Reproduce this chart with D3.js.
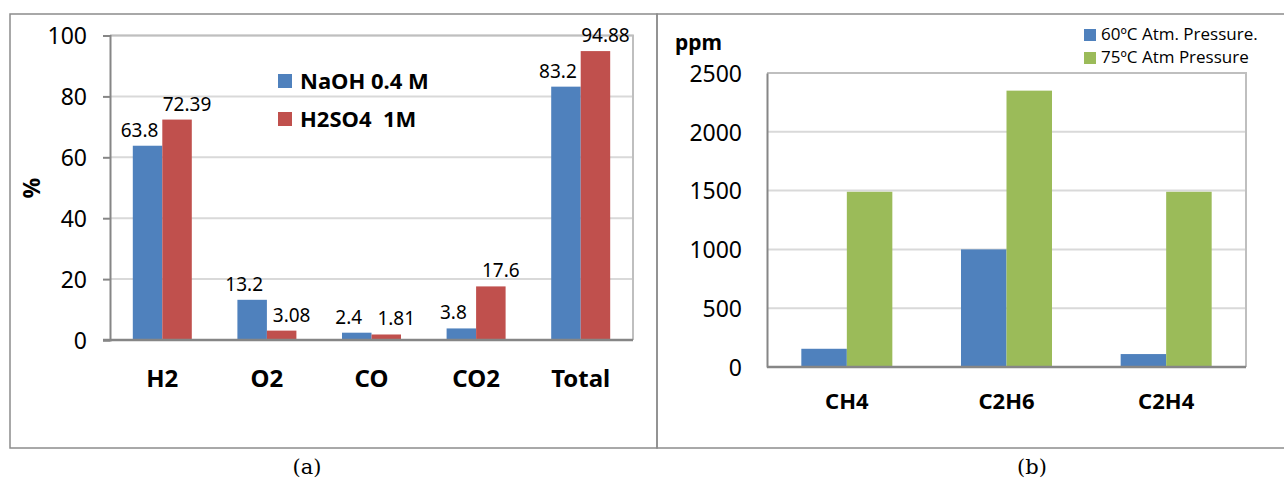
<!DOCTYPE html>
<html>
<head>
<meta charset="utf-8">
<title>Gas composition</title>
<script src="https://d3js.org/d3.v7.min.js"></script>
<style>
body { margin: 0; background: #fff; }
svg text { font-family: "Noto Sans", "Open Sans", sans-serif; fill: #000; }
</style>
</head>
<body>
<script type="text/javascript">

// panel (a)
var gasesA = ["H2", "O2", "CO", "CO2", "Total"];
var seriesA = ["NaOH 0.4 M", "H2SO4  1M"];
var naoh = [63.8, 13.2, 2.4, 3.8, 83.2];
var h2so4 = [72.39, 3.08, 1.81, 17.6, 94.88];
var ticksA = [0, 20, 40, 60, 80, 100];

// panel (b)
var gasesB = ["CH4", "C2H6", "C2H4"];
var seriesB = ["60ºC Atm. Pressure.", "75ºC Atm Pressure"];
var t60 = [155, 1000, 110];
var t75 = [1490, 2350, 1490];
var ticksB = [0, 500, 1000, 1500, 2000, 2500];

var width = 1284,
    height = 480;

var blue = "#4f81bd", red = "#c0504d", green = "#9bbb59";

var svg = d3.select("body").append("svg")
    .attr("width", width)
    .attr("height", height);

// outer frames
svg.append("rect")
    .attr("x", 10).attr("y", 14)
    .attr("width", 647).attr("height", 434)
    .style("fill", "none").style("stroke", "#8c8c8c").style("stroke-width", 1.5);
svg.append("rect")
    .attr("x", 657).attr("y", 14)
    .attr("width", 640).attr("height", 434)
    .style("fill", "none").style("stroke", "#8c8c8c").style("stroke-width", 1.5);

function panel(opt) {
    var x0 = d3.scaleBand()
        .domain(opt.cats)
        .range([opt.left, opt.right])
        .paddingInner(opt.pad)
        .paddingOuter(opt.pad / 2);
    var x1 = d3.scaleBand()
        .domain([0, 1])
        .range([0, x0.bandwidth()]);
    var y = d3.scaleLinear()
        .domain([0, opt.ticks[opt.ticks.length - 1]])
        .range([opt.bottom, opt.top]);

    var g = svg.append("g");

    // grid
    g.selectAll(".grid")
        .data(opt.ticks.slice(1))
        .enter().append("line")
        .attr("x1", opt.left).attr("x2", opt.right)
        .attr("y1", d => y(d)).attr("y2", d => y(d))
        .style("stroke", "#d9d9d9").style("stroke-width", 2);

    // plot border (top, right)
    g.append("path")
        .attr("d", "M" + opt.left + "," + opt.top + "H" + opt.right + "V" + opt.bottom)
        .style("fill", "none").style("stroke", "#bfbfbf").style("stroke-width", 2);

    // bars
    var rows = opt.cats.map((c, i) => ({ cat: c, vals: [opt.s0[i], opt.s1[i]] }));
    var grp = g.selectAll(".grp")
        .data(rows)
        .enter().append("g")
        .attr("transform", d => "translate(" + x0(d.cat) + ",0)");
    grp.selectAll("rect")
        .data(d => d.vals.map((v, k) => ({ k: k, v: v })))
        .enter().append("rect")
        .attr("x", d => x1(d.k))
        .attr("width", x1.bandwidth())
        .attr("y", d => y(d.v))
        .attr("height", d => opt.bottom - y(d.v))
        .style("fill", d => opt.colors[d.k]);

    if (opt.labels) {
        grp.selectAll("text")
            .data(d => d.vals.map((v, k) => ({ k: k, v: v })))
            .enter().append("text")
            .attr("x", d => x1(d.k) + x1.bandwidth() / 2 + (d.k === 0 ? -8 : 10))
            .attr("y", d => y(d.v) - 9)
            .attr("text-anchor", "middle")
            .style("font-size", "19px")
            .text(d => d.v);
    }

    // y axis
    var ya = d3.axisLeft(y)
        .tickValues(opt.ticks)
        .tickSize(opt.tickLen)
        .tickPadding(opt.tickPad)
        .tickFormat(d3.format("d"));
    var yg = g.append("g")
        .attr("transform", "translate(" + opt.left + ",0)")
        .call(ya);
    yg.select(".domain").style("stroke", "#868686").style("stroke-width", 2);
    yg.selectAll(".tick line").style("stroke", "#868686").style("stroke-width", 2);
    yg.selectAll(".tick text")
        .style("font-size", "23px")
        .attr("dy", "0.36em");

    // x axis line
    g.append("line")
        .attr("x1", opt.left - opt.tickLen).attr("x2", opt.right)
        .attr("y1", opt.bottom).attr("y2", opt.bottom)
        .style("stroke", "#868686").style("stroke-width", 2.5);

    // category labels
    g.selectAll(".cat")
        .data(opt.cats)
        .enter().append("text")
        .attr("x", d => x0(d) + x0.bandwidth() / 2)
        .attr("y", opt.catY)
        .attr("text-anchor", "middle")
        .style("font-size", opt.catSize)
        .style("font-weight", "bold")
        .text(d => d);

    return g;
}

panel({
    cats: gasesA, s0: naoh, s1: h2so4, ticks: ticksA,
    colors: [blue, red], labels: true,
    left: 110, right: 633, top: 35.5, bottom: 340,
    pad: 0.436, tickLen: 7, tickPad: 16,
    catY: 387, catSize: "24px"
});

panel({
    cats: gasesB, s0: t60, s1: t75, ticks: ticksB,
    colors: [blue, green], labels: false,
    left: 767, right: 1246, top: 73, bottom: 367,
    pad: 0.43, tickLen: 0, tickPad: 25,
    catY: 409, catSize: "22px"
});

// axis titles
svg.append("text")
    .attr("transform", "translate(40,188) rotate(-90)")
    .attr("text-anchor", "middle")
    .style("font-size", "23px")
    .style("font-weight", "bold")
    .text("%");
svg.append("text")
    .attr("x", 675).attr("y", 50)
    .style("font-size", "21px")
    .style("font-weight", "bold")
    .text("ppm");

// legend (a)
var la = svg.append("g").attr("transform", "translate(278,74)");
la.selectAll("rect")
    .data(seriesA)
    .enter().append("rect")
    .attr("y", (d, i) => i * 38)
    .attr("width", 14).attr("height", 14)
    .style("fill", (d, i) => [blue, red][i]);
la.selectAll("text")
    .data(seriesA)
    .enter().append("text")
    .attr("x", 22)
    .attr("y", (d, i) => i * 38 + 15)
    .style("font-size", "22px")
    .style("font-weight", "bold")
    .style("white-space", "pre")
    .attr("xml:space", "preserve")
    .text(d => d);

// legend (b)
var lb = svg.append("g").attr("transform", "translate(1084,29)");
lb.selectAll("rect")
    .data(seriesB)
    .enter().append("rect")
    .attr("y", (d, i) => i * 23)
    .attr("width", 12).attr("height", 12)
    .style("fill", (d, i) => [blue, green][i]);
lb.selectAll("text")
    .data(seriesB)
    .enter().append("text")
    .attr("x", 17)
    .attr("y", (d, i) => i * 23 + 11)
    .style("font-family", "'Open Sans', 'Noto Sans', sans-serif")
    .style("font-size", "17px")
    .text(d => d);

// panel captions
svg.selectAll(".cap")
    .data(["(a)", "(b)"])
    .enter().append("text")
    .attr("x", (d, i) => [307, 1032][i])
    .attr("y", 474)
    .attr("text-anchor", "middle")
    .style("font-family", "'DejaVu Serif', 'Liberation Serif', serif")
    .style("font-size", "21px")
    .text(d => d);

</script>
</body>
</html>
